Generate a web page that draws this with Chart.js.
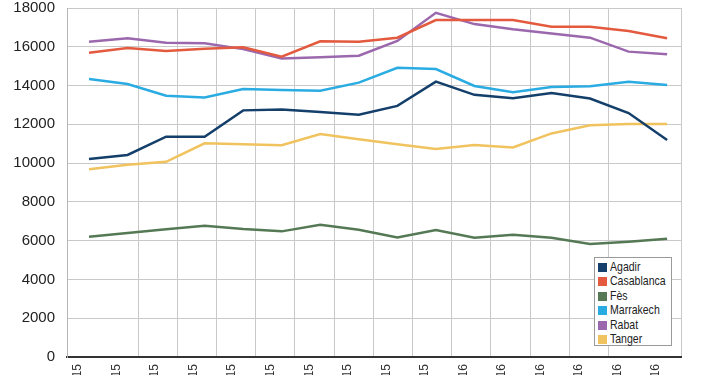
<!DOCTYPE html>
<html>
<head>
<meta charset="utf-8">
<script src="https://cdn.jsdelivr.net/npm/chart.js@4.4.1/dist/chart.umd.min.js"></script>
<style>
  body { margin: 0; background: #fff; }
  #wrap { position: relative; width: 702px; height: 375px; overflow: hidden; }
  #legend {
    position: absolute; left: 594px; top: 257px; width: 78px; height: 89px;
    background: #fff; border: 1px solid #9a9a9a;
    font-family: "Liberation Sans", sans-serif;
    font-size: 13.5px; color: #222; padding: 2px 0 0 3px; box-sizing: border-box;
  }
  #legend div { height: 14.4px; line-height: 14.4px; white-space: nowrap; }
  #legend span.sw { display: inline-block; width: 9px; height: 9px; margin-right: 3px; vertical-align: -1px; }
  #legend span.tx { display: inline-block; transform: scaleX(0.78); transform-origin: left center; }
</style>
</head>
<body>
<div id="wrap">
  <canvas id="chart"></canvas>
  <div id="legend"></div>
</div>
<script>
const months = ["mars-15", "avr.-15", "mai-15", "juin-15", "juil.-15", "août-15", "sept.-15", "oct.-15",
  "nov.-15", "déc.-15", "janv.-16", "févr.-16", "mars-16", "avr.-16", "mai-16", "juin-16"];

const cities = ["Agadir", "Casablanca", "Fès", "Marrakech", "Rabat", "Tanger"];

const agadir = [10210, 10420, 11360, 11360, 12720, 12760, 12640, 12500, 12950, 14200, 13520, 13350, 13620, 13330, 12580, 11190];
const casablanca = [15690, 15940, 15780, 15900, 15970, 15490, 16280, 16260, 16470, 17380, 17380, 17380, 17030, 17030, 16810, 16440];
const fes = [6200, 6400, 6590, 6770, 6600, 6480, 6820, 6560, 6170, 6550, 6150, 6300, 6150, 5830, 5950, 6100];
const marrakech = [14340, 14080, 13480, 13390, 13820, 13770, 13730, 14150, 14920, 14850, 13980, 13650, 13930, 13960, 14200, 14030];
const rabat = [16260, 16440, 16210, 16180, 15880, 15400, 15460, 15540, 16300, 17750, 17170, 16900, 16690, 16470, 15750, 15610];
const tanger = [9680, 9920, 10070, 11020, 10970, 10920, 11500, 11230, 10970, 10730, 10930, 10810, 11530, 11950, 12020, 12020];

const yTicks = [0, 2000, 4000, 6000, 8000, 10000, 12000, 14000, 16000, 18000];

const series = [agadir, casablanca, fes, marrakech, rabat, tanger];
const colors = ["#133f6a", "#e35a3e", "#557955", "#2aace2", "#9b68ad", "#f0c35e"];

const datasets = series.map((vals, k) => ({
  label: cities[k],
  data: vals.map((v, i) => ({ x: i, y: v })),
  borderColor: colors[k],
  backgroundColor: colors[k],
  borderWidth: 2.5,
  pointRadius: 0,
  tension: 0,
  fill: false
}));

// legend (html, boxed inside the plot)
const legendEl = document.getElementById("legend");
cities.forEach((c, k) => {
  const row = document.createElement("div");
  row.innerHTML = `<span class="sw" style="background:${colors[k]}"></span><span class="tx">${c}</span>`;
  legendEl.appendChild(row);
});

const noPad = (s) => { s.paddingTop = 0; s.paddingBottom = 0; s.paddingLeft = 0; s.paddingRight = 0; };

const ctx = document.getElementById("chart").getContext("2d");
new Chart(ctx, {
  type: "line",
  data: { datasets },
  options: {
    responsive: true,
    maintainAspectRatio: false,
    animation: false,
    layout: { padding: { top: 8, right: 21, left: 0, bottom: 0 } },
    plugins: { legend: { display: false }, tooltip: { enabled: false } },
    scales: {
      x: {
        type: "linear",
        min: -0.571,
        max: 15.36,
        grid: { display: false, drawTicks: false },
        border: { display: true, color: "#333", width: 2 },
        afterBuildTicks: (s) => { s.ticks = months.map((m, i) => ({ value: i })); },
        ticks: {
          autoSkip: false,
          minRotation: 90,
          maxRotation: 90,
          labelOffset: -11,
          padding: 7,
          color: "#333",
          font: { family: "Liberation Sans", size: 12 },
          callback: (v) => months[v]
        },
        afterFit: (s) => { s.height = 18; noPad(s); }
      },
      x2: {
        type: "linear",
        position: "bottom",
        min: -0.816,
        max: 14.85,
        ticks: { display: false, stepSize: 1 },
        grid: { color: "#c9c9c9", lineWidth: 1, drawTicks: false },
        border: { display: false },
        afterFit: (s) => { s.height = 0; noPad(s); }
      },
      y: {
        min: 0,
        max: 18000,
        afterBuildTicks: (s) => { s.ticks = yTicks.map((v) => ({ value: v })); },
        grid: { color: "#c9c9c9", lineWidth: 1, drawTicks: false },
        border: { display: true, color: "#b5b5b5", width: 1 },
        ticks: {
          padding: 12,
          color: "#222",
          font: { family: "Liberation Sans", size: 15 },
          callback: (v) => String(v)
        },
        afterFit: (s) => { s.width = 67; noPad(s); }
      }
    }
  }
});
</script>
</body>
</html>
